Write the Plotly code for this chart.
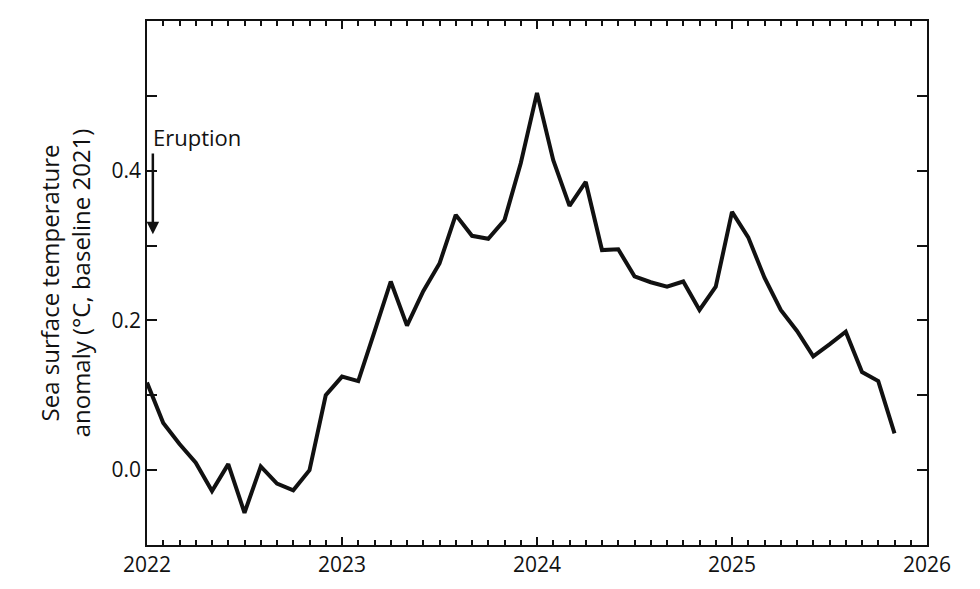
import plotly.graph_objects as go

# monthly values, Jan 2022 .. Nov 2025
start_year = 2022
anomaly = [0.117, 0.063, 0.035, 0.010, -0.028, 0.008, -0.057, 0.005, -0.018, -0.027,
           0.000, 0.100, 0.125, 0.119, 0.185, 0.252, 0.193, 0.239, 0.276, 0.341,
           0.313, 0.309, 0.334, 0.410, 0.504, 0.414, 0.353, 0.385, 0.294, 0.295,
           0.259, 0.251, 0.245, 0.252, 0.214, 0.245, 0.345, 0.311, 0.257, 0.214,
           0.186, 0.152, 0.168, 0.185, 0.131, 0.119, 0.049]
years = [start_year + i / 12 for i in range(len(anomaly))]
xticks = [2022, 2023, 2024, 2025, 2026]

fig = go.Figure(go.Scatter(x=years, y=anomaly, mode="lines",
                           line=dict(color="#111111", width=4)))

fig.add_annotation(x=2022.03, y=0.315, ax=2022.03, ay=0.425, xref="x", yref="y",
                   axref="x", ayref="y", text="", showarrow=True,
                   arrowhead=2, arrowsize=1, arrowwidth=2.5, arrowcolor="#111111")
fig.add_annotation(x=2022.02, y=0.445, xref="x", yref="y", text="Eruption",
                   showarrow=False, xanchor="left", font=dict(size=22, color="#111111"))

fig.update_layout(
    width=980, height=589, plot_bgcolor="white", paper_bgcolor="white",
    margin=dict(l=139, r=61, t=13, b=52), showlegend=False,
    font=dict(family="Open Sans, Arial, sans-serif", size=21, color="#111111"),
)
fig.update_xaxes(range=[2022, 2026], tickvals=xticks, ticktext=[str(t) for t in xticks],
                 ticks="inside", ticklen=8, tickwidth=1.5, tickcolor="#111111",
                 showline=True, linecolor="#111111", linewidth=1.5, mirror="ticks",
                 showgrid=False, zeroline=False,
                 minor=dict(dtick=1 / 12, tick0=2022, ticks="inside", ticklen=5,
                            tickcolor="#111111", showgrid=False))
fig.update_yaxes(range=[-0.1, 0.6], dtick=0.2, tickformat=".1f",
                 ticks="inside", ticklen=10, tickwidth=1.5, tickcolor="#111111",
                 showline=True, linecolor="#111111", linewidth=1.5, mirror="ticks",
                 showgrid=False, zeroline=False,
                 minor=dict(dtick=0.1, ticks="inside", ticklen=10,
                            tickcolor="#111111", showgrid=False),
                 title=dict(text="Sea surface temperature<br>anomaly (°C, baseline 2021)",
                            font=dict(size=24), standoff=14))

fig.write_html("out.html")
